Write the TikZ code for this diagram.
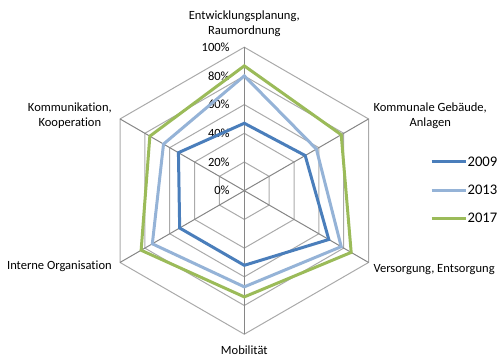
\documentclass[tikz,border=0pt]{standalone}
\usepackage{fontspec}
\setmainfont{Carlito}[Ligatures=NoCommon]
\usepackage{xcolor}
\usepackage{tikz}
\usetikzlibrary{calc}
\definecolor{series09}{RGB}{74,126,187}
\definecolor{series13}{RGB}{149,179,215}
\definecolor{series17}{RGB}{155,187,89}
\definecolor{gridgray}{RGB}{134,134,134}
\newcommand{\rr}{1.435}

\begin{document}
\begin{tikzpicture}[x=0.75pt,y=0.75pt,font=\fontsize{9.4}{11.5}\selectfont,
    line09/.style={series09,line width=2.25pt},
    line13/.style={series13,line width=2.25pt},
    line17/.style={series17,line width=2.25pt}]
    \useasboundingbox (-244.3,-167.3) rectangle (256.7,190.7);

    % Hexagon rings, 20% steps
    \foreach \r in {1,...,5}
        \draw[gridgray!70,line width=0.75pt] (90:\r*28.7) -- (30:\r*28.7) -- (-30:\r*28.7)
            -- (-90:\r*28.7) -- (-150:\r*28.7) -- (150:\r*28.7) -- cycle;
    % Spokes
    \foreach \a in {90,30,-30,-90,-150,150}
        \draw[gridgray,line width=0.75pt] (0,0) -- (\a:143.5);

    % Percent labels on the top spoke
    \foreach \r/\p in {0/0,1/20,2/40,3/60,4/80,5/100}
        \node[anchor=east,inner sep=1pt] (pct\p) at (-13,\r*28.7) {\p\%};

    % Series
    \draw[line09] (90:47*\rr) -- (30:49*\rr) -- (-30:68*\rr) -- (-90:52*\rr)
        -- (-150:52*\rr) -- (150:53*\rr) -- cycle;
    \draw[line13] (90:80*\rr) -- (30:58*\rr) -- (-30:78*\rr) -- (-90:67*\rr)
        -- (-150:74*\rr) -- (150:65*\rr) -- cycle;
    \draw[line17] (90:87*\rr) -- (30:78*\rr) -- (-30:86*\rr) -- (-90:74*\rr)
        -- (-150:83*\rr) -- (150:76*\rr) -- cycle;

    % Axis labels
    \node[align=center] (lblplan) at (0,167.2) {Entwicklungsplanung,\\Raumordnung};
    \node[align=center,anchor=west,inner sep=0pt] (lblbau) at (129,75) {Kommunale Gebäude,\\Anlagen};
    \node[anchor=west,inner sep=0pt] (lblvers) at (129,-79.3) {Versorgung, Entsorgung};
    \node (lblmob) at (0,-159.3) {Mobilität};
    \node[anchor=east,inner sep=0pt] (lblorg) at (-132.3,-75.3) {Interne Organisation};
    \node[align=center,anchor=east,inner sep=0pt] (lblkomm) at (-132.3,75) {Kommunikation,\\Kooperation};

    % Legend
    \foreach \s/\y in {09/29,13/0.7,17/-27.3} {
        \coordinate (leg\s a) at (187.4,\y);
        \node[anchor=west,inner sep=1pt,font=\fontsize{11}{13}\selectfont] (leg\s) at (221.7,\y) {20\s};
        \draw[line\s] (leg\s a) -- (leg\s.west);
    }
\end{tikzpicture}
\end{document}
